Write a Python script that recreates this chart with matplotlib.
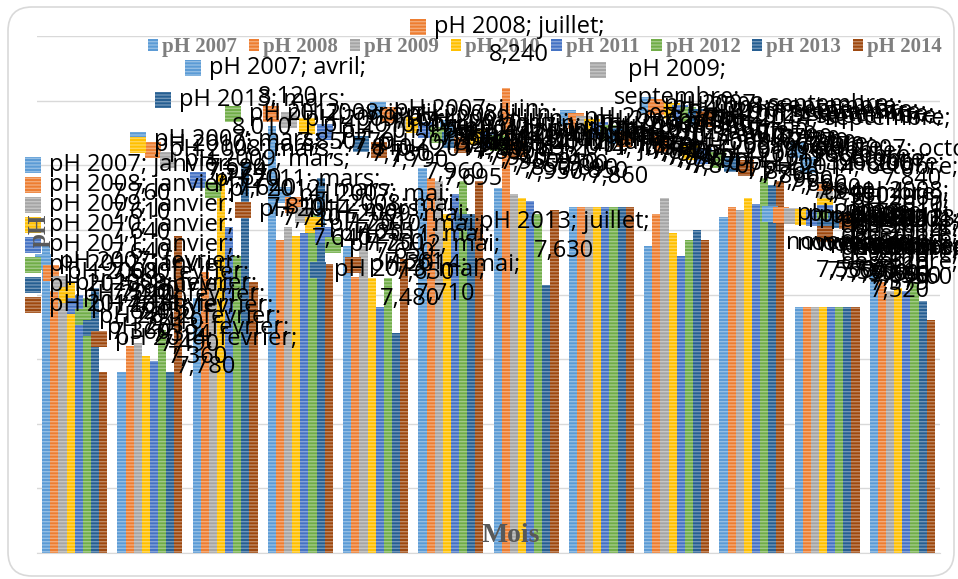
import numpy as np
import matplotlib.pyplot as plt
from matplotlib.patches import FancyBboxPatch, Rectangle
from matplotlib.transforms import IdentityTransform
from matplotlib import colors as mcolors

plt.rcParams['hatch.linewidth'] = 1.0

# ---------------------------------------------------------
# Data: monthly pH, one list per year
# ---------------------------------------------------------
months = ['janvier', 'fevrier', 'mars', 'avril', 'mai', 'juin', 'juillet',
          'aout', 'septembre', 'octobre', 'novembre', 'decembre']
years = ['pH 2007', 'pH 2008', 'pH 2009', 'pH 2010',
         'pH 2011', 'pH 2012', 'pH 2013', 'pH 2014']

ph_2007 = [7.760, 7.360, 7.590, 8.120, 7.750, 7.990, 7.930, 7.870, 7.750, 7.840, 7.560, 7.680]
ph_2008 = [7.610, 7.440, 7.670, 7.770, 7.655, 7.960, 8.240, 7.870, 7.850, 7.870, 7.560, 7.640]
ph_2009 = [7.640, 7.450, 7.640, 7.810, 7.750, 7.950, 7.910, 7.870, 7.900, 7.860, 7.560, 7.610]
ph_2010 = [7.640, 7.410, 7.974, 7.780, 7.650, 7.850, 7.900, 7.870, 7.790, 7.900, 7.560, 7.620]
ph_2011 = [7.600, 7.394, 7.810, 7.790, 7.561, 7.910, 7.890, 7.870, 7.720, 7.880, 7.560, 7.610]
ph_2012 = [7.590, 7.490, 7.720, 7.850, 7.650, 7.950, 7.850, 7.870, 7.770, 7.960, 7.560, 7.640]
ph_2013 = [7.620, 7.360, 8.010, 7.960, 7.480, 7.850, 7.630, 7.870, 7.800, 7.940, 7.560, 7.579]
ph_2014 = [7.360, 7.780, 7.640, 7.695, 7.710, 7.950, 7.860, 7.870, 7.770, 7.950, 7.560, 7.520]

series = [ph_2007, ph_2008, ph_2009, ph_2010, ph_2011, ph_2012, ph_2013, ph_2014]
colors = ['#5B9BD5', '#ED7D31', '#A5A5A5', '#FFC000',
          '#4472C4', '#70AD47', '#255E91', '#9E480E']

# ---------------------------------------------------------
# Figure (pixel helpers for the free-floating labels)
# ---------------------------------------------------------
W, H = 958, 579
fig = plt.figure(figsize=(W / 100, H / 100), dpi=100)
fig.patch.set_facecolor('white')

frame = FancyBboxPatch((8, 3), 946, 569, boxstyle='round,pad=0,rounding_size=24',
                       transform=IdentityTransform(), facecolor='none',
                       edgecolor='#D9D9D9', linewidth=1.2)
fig.add_artist(frame)


def lighter(c, amt=0.35):
    r, g, b = mcolors.to_rgb(c)
    return (r + (1 - r) * amt, g + (1 - g) * amt, b + (1 - b) * amt)


ax = fig.add_axes([37 / W, 1 - 553 / H, (940 - 37) / W, (553 - 36) / H])
ax.set_xlim(-0.5, 11.5)
ax.set_ylim(6.8, 8.4)
ax.set_yticks(np.arange(6.8, 8.41, 0.2))
ax.set_xticks([])
ax.tick_params(left=False, labelleft=False)
ax.grid(axis='y', color='#D9D9D9', linewidth=1)
ax.set_axisbelow(True)
for s in ['top', 'right', 'left']:
    ax.spines[s].set_visible(False)
ax.spines['bottom'].set_color('#D9D9D9')

x = np.arange(len(months))
width = 0.1077
handles = []
for i, (vals, c) in enumerate(zip(series, colors)):
    b = ax.bar(x + (i - 3.5) * width, np.array(vals) - 6.8, width, bottom=6.8,
               color=c, edgecolor=lighter(c), linewidth=0, hatch='-----',
               label=years[i])
    handles.append(b)

ax.legend(handles=handles, ncol=8, loc='center',
          bbox_to_anchor=(545 / W, 1 - 47 / H), bbox_transform=fig.transFigure,
          frameon=False, prop={'family': 'Liberation Serif', 'weight': 'bold', 'size': 15},
          labelcolor='#7F7F7F', handlelength=0.5, handleheight=0.5,
          handletextpad=0.2, columnspacing=0.55, borderpad=0)

# axis titles sit inside the plot area
fig.text(39 / W, 1 - 230 / H, 'pH', rotation=90, ha='center', va='center',
         family='Liberation Serif', weight='bold', size=18, color='#595959', zorder=6)
fig.text(511 / W, 1 - 536 / H, 'Mois', ha='center', va='center',
         family='Liberation Serif', weight='bold', size=20, color='#595959', zorder=6)

# ---------------------------------------------------------
# Data labels with legend keys (dragged clusters per month)
# anchor (x, y) in pixels, step per series, wrapped or not
# ---------------------------------------------------------
label_anchor = [(25, 165, 0, 20, False), (35, 262, 8, 11, False),
                (130, 140, 15, 10, False), (245, 108, 18, 6, False),
                (275, 195, 10, 10, False), (370, 110, 12, 5, False),
                (440, 128, 10, 3, False), (560, 118, 8, 3, False),
                (640, 105, 8, 2, False), (640, 140, 14, 4, False),
                (762, 214, 11, 1, True), (817, 185, 0, 7, True)]
# individually moved labels: (series, month) -> (x, y, wrapped)
label_moved = {(1, 6): (410, 27, False), (0, 3): (185, 68, False),
               (2, 8): (590, 70, True), (6, 2): (155, 100, False),
               (6, 6): (455, 222, False), (6, 4): (310, 270, False),
               (0, 11): (800, 165, True), (5, 3): (225, 114, False),
               (3, 2): (130, 145, False), (0, 9): (790, 150, False)}

for i, vals in enumerate(series):
    for m, v in enumerate(vals):
        if (i, m) in label_moved:
            lx, ly, wrapped = label_moved[(i, m)]
        else:
            ax0, ay0, dx, dy, wrapped = label_anchor[m]
            lx, ly = ax0 + i * dx, ay0 + i * dy
        val = f'{v:.3f}'.replace('.', ',')
        sep = '\n' if wrapped else ' '
        txt = f'{years[i]};{sep}{months[m]};\n{val}'
        fig.add_artist(Rectangle((lx / W, 1 - (ly + 8) / H), 16 / W, 16 / H,
                                 transform=fig.transFigure, facecolor=colors[i],
                                 edgecolor=lighter(colors[i]), linewidth=0,
                                 hatch='-----', zorder=4))
        fig.text((lx + 24) / W, 1 - (ly - 12) / H, txt, ha='left', va='top',
                 multialignment='center', family='Open Sans', size=17,
                 linespacing=1.25, color='black', zorder=5)

fig.savefig('out.png', dpi=100)
